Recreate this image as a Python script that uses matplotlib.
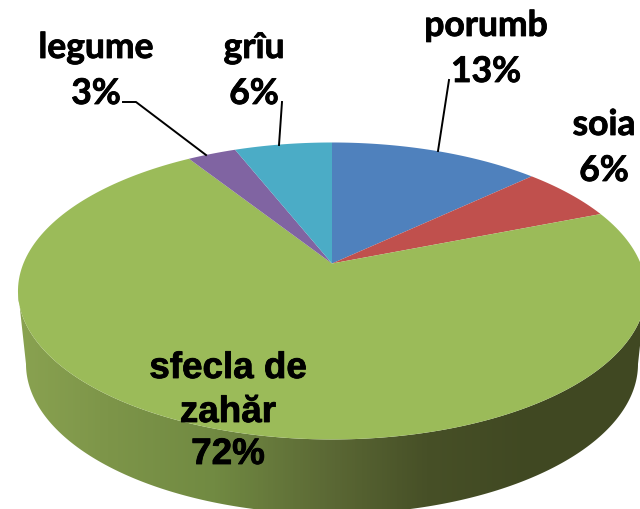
import matplotlib
matplotlib.use("Agg")
import matplotlib.pyplot as plt
import matplotlib.patheffects as pe
from matplotlib.colors import LinearSegmentedColormap
from matplotlib.patches import Polygon
import numpy as np

names = ["porumb", "soia", "sfecla de\nzahăr", "legume", "grîu"]
values = [13, 6, 72, 3, 6]
colors = ["#4F81BD", "#C0504D", "#9BBB59", "#8064A2", "#4BACC6"]
wall_colors = ["#8CA552", "#7D9549", "#718A42", "#5D6B36", "#475027", "#404822", "#404822"]

# pie geometry in pixels, the top face is a circle seen in perspective
cx, cy = 332, 264.5
a, b, w = 308.6, 143.4, 0.185


def top_face(theta):
    # theta is clockwise from twelve o'clock
    x, y = np.sin(theta), np.cos(theta)
    d = 1 + w * y
    return cx + a * x / d, cy - b * y / d


def bottom_rim(theta):
    return 332 + 306 * np.sin(theta), 365 - 150 * np.cos(theta)


fig = plt.figure(figsize=(6.4, 5.1), dpi=100)
ax = fig.add_axes([0, 0, 1, 1])
ax.set_xlim(0, 640)
ax.set_ylim(510, 0)
ax.axis("off")

# side wall, the widest point of the top face sits a bit below its middle
xt, yt = top_face(np.linspace(np.pi / 2 + w, 3 * np.pi / 2 - w, 300))
xb, yb = bottom_rim(np.linspace(np.pi / 2, 3 * np.pi / 2, 300))
wall = Polygon(np.r_[np.c_[xt, yt], np.c_[xb, yb][::-1]], closed=True, fc="none", ec="none")
ax.add_patch(wall)
cmap = LinearSegmentedColormap.from_list("wall", wall_colors[::-1])
grad = np.linspace(0, 1, 640).reshape(1, -1)[:, ::-1]
im = ax.imshow(grad, cmap=cmap, extent=(0, 640, 510, 0), aspect="auto", zorder=1)
im.set_clip_path(wall)
ax.set_xlim(0, 640)
ax.set_ylim(510, 0)

# top face, one polygon per slice
edges = np.cumsum([0] + values) / sum(values) * 2 * np.pi
for i in range(len(values)):
    th = np.linspace(edges[i], edges[i + 1], 200)
    x, y = top_face(th)
    ax.add_patch(Polygon(np.r_[[[cx, cy]], np.c_[x, y]], closed=True, fc=colors[i], ec="none", zorder=2))

# leader lines
ax.plot([449, 438], [81, 152], color="black", lw=1.4, zorder=3)
ax.plot([282, 279], [103, 146], color="black", lw=1.4, zorder=3)
ax.plot([123, 136, 206], [103, 103, 156], color="black", lw=1.4, zorder=3)

# labels: centre x, then one baseline per text line
label_x = [486, 604, 228, 96, 254]
label_y = [[37, 83], [136, 182], [379, 423, 465], [59, 105], [59, 105]]
label_font = ["Lato", "Lato", "Liberation Sans", "Lato", "Lato"]
label_size = [25.5, 25.5, 26.5, 25.5, 25.5]
heavier = [pe.withStroke(linewidth=0.6, foreground="black")]
for i in range(len(names)):
    lines = names[i].split("\n") + ["%d%%" % values[i]]
    for line, yy in zip(lines, label_y[i]):
        ax.text(label_x[i], yy, line, ha="center", va="baseline", fontsize=label_size[i],
                fontweight="bold", family=label_font[i], color="black", zorder=4,
                path_effects=heavier)

fig.savefig("out.png", dpi=100)
